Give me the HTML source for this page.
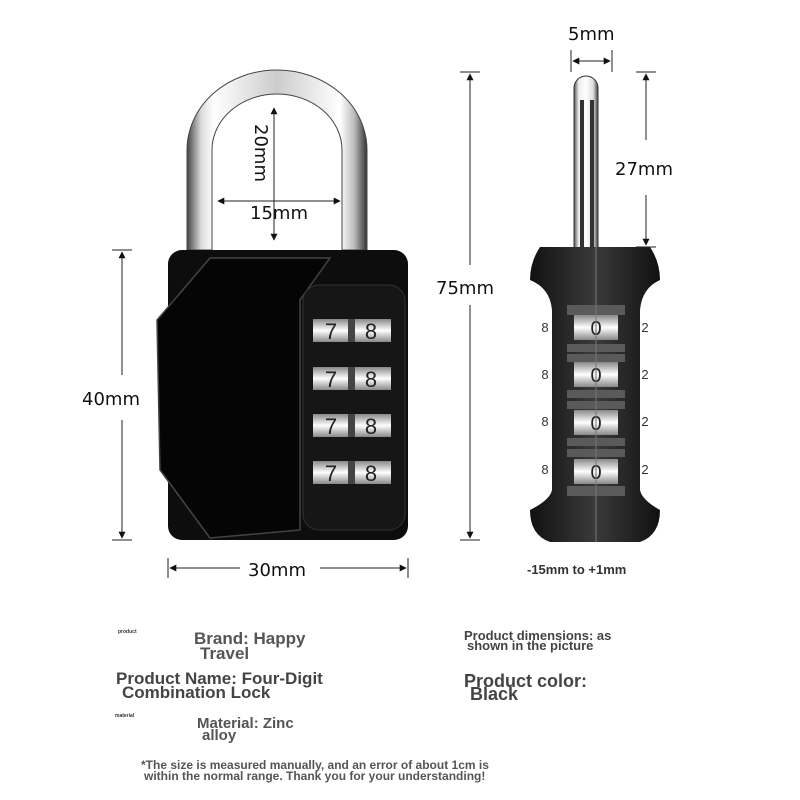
<!DOCTYPE html>
<html><head><meta charset="utf-8"><style>
html,body{margin:0;padding:0;background:#fff;}
svg{display:block;}
.dim{font-family:"DejaVu Sans","Liberation Sans",sans-serif;font-size:18px;fill:#111;}
.t{font-family:"Liberation Sans",sans-serif;font-weight:bold;fill:#555;}
</style></head><body>
<svg width="800" height="800" viewBox="0 0 800 800" xmlns="http://www.w3.org/2000/svg">
<defs>
<linearGradient id="chrome" x1="0" x2="1">
<stop offset="0" stop-color="#444"/><stop offset="0.08" stop-color="#ddd"/><stop offset="0.15" stop-color="#fff"/><stop offset="0.5" stop-color="#ccc"/><stop offset="0.85" stop-color="#fff"/><stop offset="0.93" stop-color="#bbb"/><stop offset="1" stop-color="#333"/>
</linearGradient>
<linearGradient id="chrome2" x1="0" x2="1">
<stop offset="0" stop-color="#555"/><stop offset="0.2" stop-color="#eee"/><stop offset="0.5" stop-color="#fff"/><stop offset="0.8" stop-color="#ddd"/><stop offset="1" stop-color="#444"/>
</linearGradient>
<linearGradient id="dial" x1="0" x2="0" y1="0" y2="1">
<stop offset="0" stop-color="#888"/><stop offset="0.5" stop-color="#fff"/><stop offset="1" stop-color="#888"/>
</linearGradient>
<linearGradient id="body2" x1="0" x2="1">
<stop offset="0" stop-color="#111"/><stop offset="0.5" stop-color="#3a3a3a"/><stop offset="1" stop-color="#111"/>
</linearGradient>
<marker id="ar" viewBox="0 0 10 10" refX="9" refY="5" markerWidth="7" markerHeight="7" orient="auto-start-reverse"><path d="M0,0L10,5L0,10z" fill="#111"/></marker>
</defs>

<!-- left shackle -->
<path d="M187,250 L187,150 A90,80 0 0 1 367,150 L367,250 L342,250 L342,150 A65,56 0 0 0 212,150 L212,250 Z" fill="url(#chrome)" stroke="#444" stroke-width="1"/>
<!-- left body -->
<rect x="168" y="250" width="240" height="290" rx="14" fill="#0d0d0d"/>
<path d="M210,258 L330,258 L300,300 L300,530 L210,538 L160,470 L157,320 Z" fill="#050505" stroke="#444" stroke-width="1.5"/>
<rect x="303" y="285" width="102" height="245" rx="16" fill="#161616" stroke="#333"/>
<g font-family="Liberation Sans,sans-serif" font-size="22" fill="#222" text-anchor="middle">
<rect x="313" y="319" width="78" height="23" fill="url(#dial)"/><rect x="348" y="319" width="7" height="23" fill="#444"/><text x="331" y="339">7</text><text x="371" y="339">8</text>
<rect x="313" y="367" width="78" height="23" fill="url(#dial)"/><rect x="348" y="367" width="7" height="23" fill="#444"/><text x="331" y="387">7</text><text x="371" y="387">8</text>
<rect x="313" y="414" width="78" height="23" fill="url(#dial)"/><rect x="348" y="414" width="7" height="23" fill="#444"/><text x="331" y="434">7</text><text x="371" y="434">8</text>
<rect x="313" y="461" width="78" height="23" fill="url(#dial)"/><rect x="348" y="461" width="7" height="23" fill="#444"/><text x="331" y="481">7</text><text x="371" y="481">8</text>
</g>

<!-- dims left -->
<g stroke="#222" stroke-width="1" fill="none">
<line x1="112" y1="250" x2="132" y2="250"/><line x1="112" y1="540" x2="132" y2="540"/>
<line x1="122" y1="252" x2="122" y2="375" marker-start="url(#ar)"/><line x1="122" y1="420" x2="122" y2="538" marker-end="url(#ar)"/>
<line x1="168" y1="558" x2="168" y2="578"/><line x1="408" y1="558" x2="408" y2="578"/>
<line x1="170" y1="568" x2="240" y2="568" marker-start="url(#ar)"/><line x1="320" y1="568" x2="406" y2="568" marker-end="url(#ar)"/>
<line x1="460" y1="72" x2="480" y2="72"/><line x1="460" y1="540" x2="480" y2="540"/>
<line x1="470" y1="74" x2="470" y2="265" marker-start="url(#ar)"/><line x1="470" y1="305" x2="470" y2="538" marker-end="url(#ar)"/>
<line x1="274" y1="108" x2="274" y2="240" marker-start="url(#ar)" marker-end="url(#ar)"/>
<line x1="218" y1="201" x2="340" y2="201" marker-start="url(#ar)" marker-end="url(#ar)"/>
</g>
<text class="dim" x="82" y="405">40mm</text>
<text class="dim" x="248" y="576">30mm</text>
<text class="dim" x="436" y="294">75mm</text>
<text class="dim" x="250" y="219">15mm</text>
<text class="dim" transform="translate(255,124) rotate(90)">20mm</text>

<!-- right shackle -->
<path d="M574,250 L574,88 A12,12 0 0 1 598,88 L598,250 Z" fill="url(#chrome2)" stroke="#333"/>
<rect x="580" y="100" width="4" height="150" fill="#333"/><rect x="590" y="100" width="4" height="150" fill="#333"/>
<!-- right body -->
<path d="M540,247 L650,247 Q660,262 660,280 Q642,288 640,310 L640,490 Q642,500 660,510 Q660,535 640,542 L550,542 Q530,535 530,510 Q550,500 552,490 L552,310 Q550,288 530,280 Q530,262 540,247 Z" fill="url(#body2)"/>
<g font-family="Liberation Sans,sans-serif" text-anchor="middle">
<g fill="#5a5a5a"><rect x="567" y="305" width="58" height="10"/><rect x="567" y="344" width="58" height="8"/><rect x="567" y="354" width="58" height="8"/><rect x="567" y="390" width="58" height="8"/><rect x="567" y="401" width="58" height="8"/><rect x="567" y="438" width="58" height="8"/><rect x="567" y="449" width="58" height="8"/><rect x="567" y="486" width="58" height="10"/></g>
<g font-size="20" fill="#222">
<rect x="574" y="315" width="44" height="25" fill="url(#dial)"/><text x="596" y="335">0</text>
<rect x="574" y="362" width="44" height="25" fill="url(#dial)"/><text x="596" y="382">0</text>
<rect x="574" y="410" width="44" height="25" fill="url(#dial)"/><text x="596" y="430">0</text>
<rect x="574" y="459" width="44" height="25" fill="url(#dial)"/><text x="596" y="479">0</text>
</g>
<g font-size="13" fill="#333">
<text x="545" y="332">8</text><text x="545" y="379">8</text><text x="545" y="426">8</text><text x="545" y="474">8</text>
<text x="645" y="332">2</text><text x="645" y="379">2</text><text x="645" y="426">2</text><text x="645" y="474">2</text>
</g></g>
<line x1="596" y1="247" x2="596" y2="542" stroke="#777" stroke-width="1"/>
<g stroke="#222" stroke-width="1" fill="none">
<line x1="571" y1="50" x2="571" y2="72"/><line x1="612" y1="50" x2="612" y2="72"/>
<line x1="573" y1="61" x2="610" y2="61" marker-start="url(#ar)" marker-end="url(#ar)"/>
<line x1="636" y1="72" x2="656" y2="72"/><line x1="636" y1="247" x2="656" y2="247"/>
<line x1="646" y1="74" x2="646" y2="140" marker-start="url(#ar)"/><line x1="646" y1="195" x2="646" y2="245" marker-end="url(#ar)"/>
</g>
<text class="dim" x="568" y="40">5mm</text>
<text class="dim" x="615" y="175">27mm</text>
<text x="527" y="574" font-family="Liberation Sans,sans-serif" font-weight="bold" font-size="13" fill="#333">-15mm to +1mm</text>

<!-- info texts -->
<text class="t" x="118" y="633" font-size="5" style="fill:#333">product</text>
<text class="t" x="194" y="644" font-size="17">Brand: Happy</text>
<text class="t" x="200" y="659" font-size="17">Travel</text>
<text class="t" x="116" y="684" font-size="17" style="fill:#444">Product Name: Four-Digit</text>
<text class="t" x="122" y="698" font-size="17" style="fill:#444">Combination Lock</text>
<text class="t" x="115" y="717" font-size="5" style="fill:#333">material</text>
<text class="t" x="197" y="728" font-size="15">Material: Zinc</text>
<text class="t" x="202" y="740" font-size="15">alloy</text>
<text class="t" x="464" y="640" font-size="13" style="fill:#444">Product dimensions: as</text>
<text class="t" x="467" y="650" font-size="13" style="fill:#444">shown in the picture</text>
<text class="t" x="464" y="687" font-size="18" style="fill:#444">Product color:</text>
<text class="t" x="470" y="700" font-size="18" style="fill:#444">Black</text>
<text class="t" x="141" y="769" font-size="12" style="fill:#555">*The size is measured manually, and an error of about 1cm is</text>
<text class="t" x="144" y="780" font-size="12" style="fill:#555">within the normal range. Thank you for your understanding!</text>
</svg>
</body></html>
